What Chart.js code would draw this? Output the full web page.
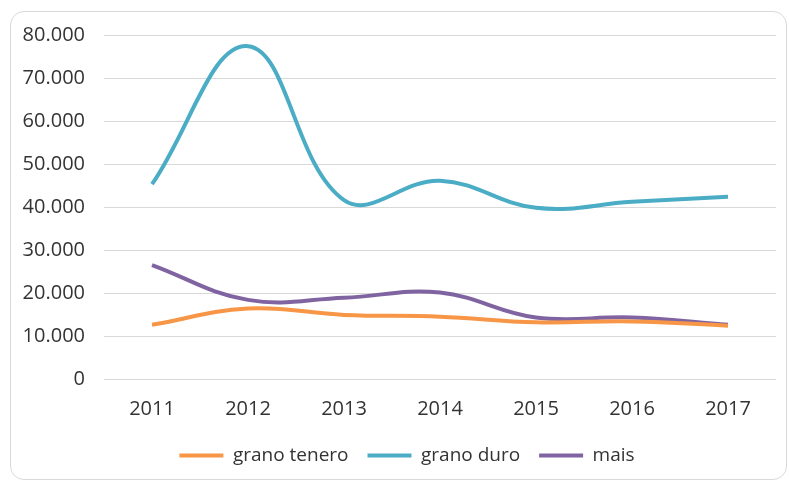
<!DOCTYPE html>
<html>
<head>
<meta charset="utf-8">
<script src="https://cdn.jsdelivr.net/npm/chart.js@4"></script>
<style>
    html, body { margin: 0; padding: 0; background: #ffffff; }
    #wrap { position: relative; width: 789px; height: 483px; }
    #frame {
        position: absolute; left: 10px; top: 11px; width: 775px; height: 467px;
        border: 1.5px solid #d9d9d9; border-radius: 14px;
    }
    #chart { position: absolute; left: 0; top: 0; }
</style>
</head>
<body>
<div id="wrap">
    <div id="frame"></div>
    <canvas id="chart" width="789" height="483"></canvas>
</div>
<script>
// Data
const years = ['2011', '2012', '2013', '2014', '2015', '2016', '2017'];
const granoTenero = [12600, 16400, 14900, 14500, 13200, 13400, 12400];
const granoDuro = [45300, 77400, 41600, 46100, 39800, 41200, 42400];
const mais = [26500, 18400, 18900, 20100, 14300, 14300, 12600];

const textColor = '#333333';
const fontFamily = '"Open Sans", sans-serif';

function dataset(label, data, color) {
    return {
        label: label,
        data: data,
        borderColor: color,
        backgroundColor: color,
        borderWidth: 4,
        pointRadius: 0,
        pointStyle: 'line',
        tension: 0.4,
        fill: false
    };
}

// legend sits a bit right of the canvas centre in the original
const legendShift = {
    id: 'legendShift',
    afterLayout(chart) {
        chart.legend.left += 12;
        chart.legend.right += 12;
    }
};

const ctx = document.getElementById('chart').getContext('2d');
new Chart(ctx, {
    type: 'line',
    data: {
        labels: years,
        datasets: [
            dataset('grano tenero', granoTenero, '#f79646'),
            dataset('grano duro', granoDuro, '#4bacc6'),
            dataset('mais', mais, '#8064a2')
        ]
    },
    plugins: [legendShift],
    options: {
        responsive: false,
        animation: false,
        layout: {
            padding: { left: 14, right: 13, top: 35, bottom: 8 }
        },
        plugins: {
            tooltip: { enabled: false },
            legend: {
                position: 'bottom',
                labels: {
                    color: textColor,
                    font: { family: fontFamily, size: 19 },
                    usePointStyle: true,
                    pointStyleWidth: 44,
                    padding: 19
                }
            }
        },
        scales: {
            x: {
                offset: true,
                grid: { display: false, drawTicks: false },
                border: { display: false },
                ticks: {
                    color: textColor,
                    font: { family: fontFamily, size: 20 },
                    padding: 18
                },
                afterFit: (scale) => { scale.height -= 12; }
            },
            y: {
                min: 0,
                max: 80000,
                grid: { color: '#d9d9d9', drawTicks: false },
                border: { display: false },
                ticks: {
                    stepSize: 10000,
                    color: textColor,
                    font: { family: fontFamily, size: 20 },
                    padding: 19,
                    callback: (v) => v.toLocaleString('it-IT')
                },
                afterFit: (scale) => { scale.width = 90; }
            }
        }
    }
});
</script>
</body>
</html>
